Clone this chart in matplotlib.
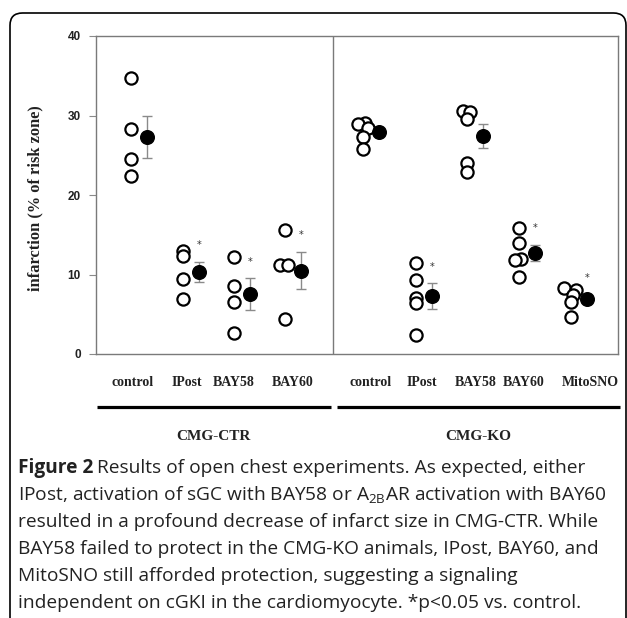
import numpy as np
import matplotlib
matplotlib.use("Agg")
import matplotlib.pyplot as plt
from matplotlib.patches import FancyBboxPatch
from matplotlib.lines import Line2D

# categories
ctr_groups = ["control", "IPost", "BAY58", "BAY60"]
ko_groups = ["control", "IPost", "BAY58", "BAY60", "MitoSNO"]
strains = ["CMG-CTR", "CMG-KO"]

# individual animals (infarct size, % of risk zone)
ctr_points = [
    [34.7, 28.3, 24.5, 22.4],
    [13.0, 12.3, 9.4, 6.9],
    [12.2, 8.6, 6.6, 2.7],
    [15.6, 11.2, 11.2, 4.4],
]
ko_points = [
    [29.1, 28.9, 28.4, 27.3, 25.8],
    [11.5, 9.3, 7.1, 6.4, 2.4],
    [30.6, 30.5, 29.5, 24.0, 22.9],
    [15.9, 14.0, 12.0, 11.8, 9.7],
    [8.3, 8.05, 7.4, 6.6, 4.7],
]

# group means and SEM
ctr_mean = [27.3, 10.3, 7.5, 10.5]
ctr_sem = [2.7, 1.3, 2.0, 2.35]
ko_mean = [27.9, 7.3, 27.4, 12.7, 6.9]
ko_sem = [0.5, 1.6, 1.55, 1.05, 0.5]

# significance vs control
ctr_sig = [False, True, True, True]
ko_sig = [False, True, False, True, True]

caption = [
    "Results of open chest experiments. As expected, either",
    "IPost, activation of sGC with BAY58 or A$_\\mathregular{2B}$AR activation with BAY60",
    "resulted in a profound decrease of infarct size in CMG-CTR. While",
    "BAY58 failed to protect in the CMG-KO animals, IPost, BAY60, and",
    "MitoSNO still afforded protection, suggesting a signaling",
    "independent on cGKI in the cardiomyocyte. *p<0.05 vs. control.",
]

# ---- layout ----
W, H = 627, 618
fig = plt.figure(figsize=(W / 100, H / 100), dpi=100)

def fx(px):
    return px / W

def fy(py):
    return 1 - py / H

ax = fig.add_axes([fx(96), fy(354), fx(618) - fx(96), fy(36) - fy(354)])

ctr_x = np.array([0.67, 1.67, 2.65, 3.63])
ko_x = np.array([5.13, 6.15, 7.13, 8.13, 9.13])
divider = 4.56
mean_off = 0.32

# small horizontal nudges where circles overlap in the original
ctr_jit = [[0] * 4, [0] * 4, [0] * 4, [0, -0.1, 0.06, 0]]
ko_jit = [
    [0.04, -0.1, 0.1, 0, 0],
    [0] * 5,
    [-0.08, 0.06, 0, 0, 0],
    [0, 0, 0.05, -0.08, 0],
    [-0.12, 0.11, 0.04, 0, 0],
]

circ = dict(marker="o", ms=8.8, mfc="white", mec="black", mew=1.6, ls="none")


def draw_side(xs, points, jit, means, sems, sig):
    for x, pts, jj, m, s, star in zip(xs, points, jit, means, sems, sig):
        ax.plot(x + np.array(jj), pts, zorder=3, **circ)
        ax.errorbar(x + mean_off, m, yerr=s, fmt="none", ecolor="#8a8a8a",
                    elinewidth=1.0, capsize=3.5, capthick=1.0, zorder=2)
        ax.plot(x + mean_off, m, "o", ms=9.8, color="black", zorder=4)
        if star:
            ax.text(x + mean_off, m + s + 2.1, "*", ha="center", va="center",
                    fontsize=7, color="#333333")


draw_side(ctr_x, ctr_points, ctr_jit, ctr_mean, ctr_sem, ctr_sig)
draw_side(ko_x, ko_points, ko_jit, ko_mean, ko_sem, ko_sig)

ax.axvline(divider, color="#7a7a7a", lw=1.0)
ax.set_xlim(0, 10.04)
ax.set_ylim(0, 40)
ax.set_xticks([])
ax.set_yticks([0, 10, 20, 30, 40])
ax.set_yticklabels(["0", "10", "20", "30", "40"], fontfamily="Liberation Sans",
                   fontweight="bold", fontsize=8.5, color="#222222")
ax.tick_params(axis="y", length=5, width=0.8, color="#8a8a8a", pad=6)
for sp in ax.spines.values():
    sp.set_color("#7a7a7a")
    sp.set_linewidth(1.0)

fig.text(fx(35), fy(198), "infarction (% of risk zone)", rotation=90,
         ha="center", va="center", fontfamily="Liberation Serif",
         fontweight="bold", fontsize=11.8, color="#222222")

# category labels
ctr_lab_px = [133, 187, 234, 293]
ko_lab_px = [371, 422, 476, 524, 590]
for lab, px in zip(ctr_groups + ko_groups, ctr_lab_px + ko_lab_px):
    fig.text(fx(px), fy(382), lab, ha="center", va="center",
             fontfamily="Liberation Serif", fontweight="bold", fontsize=10,
             color="#222222")

# strain bars and labels
for (x0, x1), name, cx in zip([(97, 331), (337, 620)], strains, [213, 478]):
    fig.add_artist(Line2D([fx(x0), fx(x1)], [fy(407), fy(407)], color="black",
                          lw=2.3, solid_capstyle="butt"))
    fig.text(fx(cx), fy(437), name, ha="center", va="center",
             fontfamily="Liberation Serif", fontweight="bold", fontsize=11,
             color="#222222")

# caption
cap_y = [468 + 27 * i for i in range(len(caption))]
cap_kw = dict(fontfamily="Open Sans", fontsize=13.8, color="#222222",
              va="center", ha="left")
t0 = fig.text(fx(18), fy(cap_y[0]), "Figure 2", fontweight="bold", **cap_kw)
fig.canvas.draw()
bb = t0.get_window_extent()
fig.text(fx(bb.x1 + 4), fy(cap_y[0]), caption[0], **cap_kw)
for line, y in zip(caption[1:], cap_y[1:]):
    fig.text(fx(18), fy(y), line, **cap_kw)

# outer rounded frame
fig.add_artist(FancyBboxPatch((fx(10), fy(630)), fx(626) - fx(10), fy(13) - fy(630),
                              boxstyle="round,pad=0,rounding_size=0.02",
                              transform=fig.transFigure, fill=False,
                              ec="black", lw=1.2))

fig.savefig("out.png", dpi=100)
